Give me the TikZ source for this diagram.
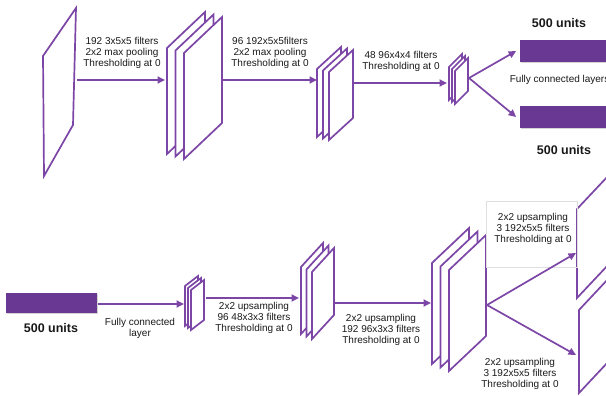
\documentclass[tikz,border=0pt]{standalone}
\usepackage{fontspec}
\setmainfont{Liberation Sans}
\usetikzlibrary{positioning,arrows.meta,shadows}
\definecolor{netline}{RGB}{124,70,166}
\definecolor{netbar}{RGB}{104,56,146}

\begin{document}
\begin{tikzpicture}[x=1pt, y=-1pt, line width=1.7pt,
  every node/.style={font=\fontsize{10}{11}\selectfont, text=black!90, align=center, inner sep=0pt},
  fmap/.style={draw=netline, fill=white, line join=miter},
  link/.style={draw=netline, -{Triangle[length=7.5pt,width=7pt]}},
  units/.style={font=\bfseries\fontsize{12.5}{14}\selectfont},
  fcbar/.style={fill=netbar, drop shadow={shadow xshift=1pt, shadow yshift=-1pt, opacity=.35}}]
  \useasboundingbox (0,0) rectangle (606,396);
  \clip (0,0) rectangle (606,396);

  % Encoder: input and conv stacks
  \draw[fmap] (43,56) -- (76,8) -- (73,125) -- (44,176) -- cycle;
  \foreach \s in {0,1,2}
    \draw[fmap, shift={(8.5*\s,2.5*\s)}] (167,48) -- ++(38,-36) -- ++(0,106) -- ++(-38,36) -- cycle;
  \foreach \s in {0,1,2}
    \draw[fmap, shift={(6*\s,1.5*\s)}] (317,69) -- ++(24,-22) -- ++(0,68) -- ++(-24,22) -- cycle;
  \foreach \s in {0,1,2}
    \draw[fmap, shift={(3*\s,2*\s)}] (449,67) -- ++(13,-13) -- ++(0,33) -- ++(-13,13) -- cycle;

  % Fully connected bars
  \node[fcbar, minimum width=90pt, minimum height=22pt] (bar1) at (565,51) {};
  \node[fcbar, minimum width=90pt, minimum height=22pt] (bar2) at (565,117) {};
  \node[units] (u1) at (559,23) {500 units};
  \node[units] (u2) at (564,150) {500 units};
  \node[anchor=west] (fcl) at (509,80) {Fully connected layers};

  % Encoder arrows
  \coordinate (inR) at (77,80);
  \coordinate (m1L) at (165,80);
  \coordinate (m1R) at (221,80);
  \coordinate (m2L) at (317,80);
  \coordinate (m2R) at (352,83);
  \coordinate (m3L) at (447,83);
  \coordinate (m3R) at (469,78);
  \draw[link] (inR) -- (m1L);
  \draw[link] (m1R) -- (m2L);
  \draw[link] (m2R) -- (m3L);
  \draw[link] (m3R) -- ([xshift=-3pt]bar1.west);
  \draw[link] (m3R) -- ([xshift=-3pt]bar2.west);
  \node (lab1) at (122,53) {192 3x5x5 filters\\2x2 max pooling\\Thresholding at 0};
  \node (lab2) at (270,53) {96 192x5x5filters\\2x2 max pooling\\Thresholding at 0};
  \node (lab3) at (401,61.5) {48 96x4x4 filters\\Thresholding at 0};

  % Decoder: bar and upsampling stacks
  \node[fcbar, minimum width=91pt, minimum height=20pt] (bar0) at (51.5,303) {};
  \node[units] (u0) at (51,328) {500 units};
  \foreach \s in {0,1,2}
    \draw[fmap, shift={(3*\s,2*\s)}] (185,286) -- ++(13,-10) -- ++(0,40) -- ++(-13,10) -- cycle;
  \foreach \s in {0,1,2}
    \draw[fmap, shift={(5.5*\s,2.5*\s)}] (301,267) -- ++(22,-24) -- ++(0,67) -- ++(-22,24) -- cycle;
  \foreach \s in {0,1,2}
    \draw[fmap, shift={(8.5*\s,3.5*\s)}] (432,263) -- ++(37,-35) -- ++(0,101) -- ++(-37,35) -- cycle;
  \draw[fmap] (577,209) -- ++(32,-34) -- ++(0,89) -- ++(-32,34) -- cycle;
  \draw[fmap] (579,310) -- ++(30,-32) -- ++(0,83) -- ++(-30,32) -- cycle;

  % Decoder arrows
  \draw[gray!25, line width=0.7pt] (486,201) rectangle (577,267);
  \coordinate (d1L) at (184,304);
  \coordinate (d1R) at (206,298);
  \coordinate (d2L) at (299,298);
  \coordinate (d2R) at (335,303);
  \coordinate (d3L) at (431,303);
  \coordinate (d3R) at (487,305);
  \coordinate (outA) at (576,253);
  \coordinate (outB) at (576,355);
  \draw[link] (bar0.east |- d1L) -- (d1L);
  \draw[link] (d1R) -- (d2L);
  \draw[link] (d2R) -- (d3L);
  \draw[link] (d3R) -- (outA);
  \draw[link] (d3R) -- (outB);
  \node (lab4) at (140,328.5) {Fully connected\\layer};
  \node (lab5) at (254,318) {2x2 upsampling\\96 48x3x3 filters\\Thresholding at 0};
  \node (lab6) at (381,330) {2x2 upsampling\\192 96x3x3 filters\\Thresholding at 0};
  \node (lab7) at (533,229) {2x2 upsampling\\3 192x5x5 filters\\Thresholding at 0};
  \node (lab8) at (520,374) {2x2 upsampling\\3 192x5x5 filters\\Thresholding at 0};
\end{tikzpicture}
\end{document}
